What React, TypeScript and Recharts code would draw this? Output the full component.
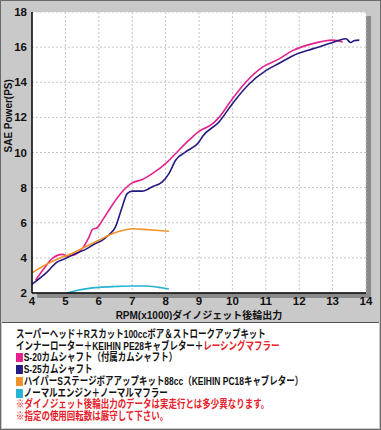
import { LineChart, Line, XAxis, YAxis, CartesianGrid } from "recharts";

// S-20カムシャフト
const s20Rpm = [4.11, 4.36, 4.61, 4.91, 5.06, 5.26, 5.51, 5.71, 5.81, 5.96, 6.11, 6.4, 6.7, 7.0, 7.3, 7.6, 8.0, 8.3, 8.7, 9.0, 9.4, 9.6, 10.0, 10.4, 10.9, 11.4, 11.8, 12.4, 13.0, 13.3];
const s20Ps = [2.74, 3.4, 3.97, 4.2, 4.1, 4.16, 4.54, 5.2, 5.62, 5.73, 6.15, 7.0, 7.76, 8.27, 8.46, 8.8, 9.37, 9.94, 10.7, 11.2, 11.63, 12.0, 13.06, 14.0, 14.86, 15.33, 15.8, 16.2, 16.4, 16.3];

// S-25カムシャフト
const s25Rpm = [4.0, 4.4, 4.76, 5.0, 5.3, 5.56, 5.9, 6.1, 6.3, 6.5, 6.7, 6.85, 7.0, 7.3, 7.6, 7.9, 8.1, 8.3, 8.6, 9.0, 9.1, 9.6, 10.0, 10.5, 11.0, 11.4, 11.8, 12.4, 12.9, 13.3, 13.4, 13.54, 13.64, 13.8];
const s25Ps = [2.5, 3.1, 3.77, 3.96, 4.25, 4.44, 4.82, 5.0, 5.3, 5.77, 6.9, 7.66, 7.8, 7.8, 8.05, 8.33, 8.8, 9.56, 10.03, 10.6, 10.9, 11.74, 12.78, 13.9, 14.66, 15.08, 15.5, 15.9, 16.2, 16.45, 16.48, 16.26, 16.36, 16.4];

// ハイパーSステージボアアップキット88cc
const hyperRpm = [4.0, 4.4, 4.8, 5.2, 5.6, 6.0, 6.4, 6.8, 7.0, 7.5, 8.1];
const hyperPs = [3.15, 3.6, 3.97, 4.25, 4.63, 5.0, 5.38, 5.6, 5.66, 5.6, 5.52];

// ノーマルエンジン
const normalRpm = [5.05, 5.4, 6.0, 6.5, 7.0, 7.4, 7.8, 8.1];
const normalPs = [2.0, 2.17, 2.32, 2.37, 2.4, 2.4, 2.32, 2.23];

const xTicks = [4, 5, 6, 7, 8, 9, 10, 11, 12, 13, 14];
const yTicks = [2, 4, 6, 8, 10, 12, 14, 16, 18];

const toPoints = (rpm: number[], ps: number[]) => rpm.map((r, i) => ({ rpm: r, ps: ps[i] }));

const series = [
  { name: "S-20", color: "#e4218c", data: toPoints(s20Rpm, s20Ps) },
  { name: "S-25", color: "#231b80", data: toPoints(s25Rpm, s25Ps) },
  { name: "hyper", color: "#f39226", data: toPoints(hyperRpm, hyperPs) },
  { name: "normal", color: "#27b3d3", data: toPoints(normalRpm, normalPs) },
];

const jp = "'Liberation Sans', 'Noto Sans CJK JP', sans-serif";

const swatch = (color: string) => (
  <span
    style={{
      display: "inline-block",
      width: 9,
      height: 9,
      background: color,
      marginRight: 1,
      verticalAlign: "-1px",
    }}
  />
);

export default function App() {
  return (
    <div
      style={{
        position: "fixed",
        left: 0,
        top: 0,
        width: 381,
        height: 430,
        background: "#c9c9c9",
        boxSizing: "border-box",
        border: "1px solid #6a6a6a",
        fontFamily: jp,
        overflow: "hidden",
      }}
    >
      <div style={{ position: "absolute", left: 36, top: 15, width: 334, height: 282, background: "#8a8a8a" }} />
      <div style={{ position: "absolute", left: -1, top: -1 }}>
        <LineChart width={381} height={320} margin={{ top: 12, right: 15, bottom: 0, left: 0 }}>
          <CartesianGrid fill="#ffffff" stroke="#c4c4c4" strokeDasharray="2 2" />
          <XAxis
            type="number"
            dataKey="rpm"
            domain={[4, 14]}
            ticks={xTicks}
            height={27}
            axisLine={{ stroke: "#000", strokeWidth: 1.5 }}
            tickLine={false}
            tickSize={0}
            tickMargin={4}
            tick={{ fill: "#111", fontSize: 11.5, fontFamily: jp, fontWeight: 600 }}
            allowDataOverflow
            label={{
              value: "RPM(x1000)ダイノジェット後輪出力",
              position: "insideBottom",
              offset: 1,
              fill: "#111",
              fontSize: 10,
              fontWeight: 700,
              fontFamily: jp,
            }}
          />
          <YAxis
            type="number"
            domain={[2, 18]}
            ticks={yTicks}
            width={32}
            axisLine={{ stroke: "#000", strokeWidth: 1.5 }}
            tickLine={false}
            tickSize={0}
            tickMargin={5}
            tick={{ fill: "#111", fontSize: 11.5, fontFamily: jp, fontWeight: 600 }}
            allowDataOverflow
            label={{
              value: "SAE Power(PS)",
              angle: -90,
              position: "insideLeft",
              offset: 0,
              dx: 8,
              fill: "#111",
              fontSize: 10,
              fontWeight: 700,
              fontFamily: jp,
            }}
          />
          {series.map((s) => (
            <Line
              key={s.name}
              data={s.data}
              dataKey="ps"
              type="monotone"
              stroke={s.color}
              strokeWidth={1.6}
              dot={false}
              activeDot={false}
              isAnimationActive={false}
            />
          ))}
        </LineChart>
      </div>
      <div
        style={{
          position: "absolute",
          left: 1,
          top: 321,
          width: 377,
          height: 106,
          background: "#fff",
          borderTop: "1px solid #555",
          boxSizing: "border-box",
        }}
      >
        <div
          style={{
            position: "absolute",
            left: 14,
            top: 6,
            fontSize: 11,
            fontWeight: 700,
            lineHeight: "11.7px",
            color: "#111",
            whiteSpace: "nowrap",
            transform: "scaleX(0.77)",
            transformOrigin: "0 0",
          }}
        >
          <div>スーパーヘッド＋Rスカット100ccボア＆ストロークアップキット</div>
          <div>
            インナーローター＋KEIHIN PE28キャブレター＋<span style={{ color: "#e8202a" }}>レーシングマフラー</span>
          </div>
          <div>{swatch(series[0].color)}S-20カムシャフト（付属カムシャフト）</div>
          <div>{swatch(series[1].color)}S-25カムシャフト</div>
          <div>{swatch(series[2].color)}ハイパーSステージボアアップキット88cc（KEIHIN PC18キャブレター）</div>
          <div>{swatch(series[3].color)}ノーマルエンジン＋ノーマルマフラー</div>
          <div style={{ color: "#e8202a" }}>※ダイノジェット後輪出力のデータは実走行とは多少異なります。</div>
          <div style={{ color: "#e8202a" }}>※指定の使用回転数は厳守して下さい。</div>
        </div>
      </div>
    </div>
  );
}
